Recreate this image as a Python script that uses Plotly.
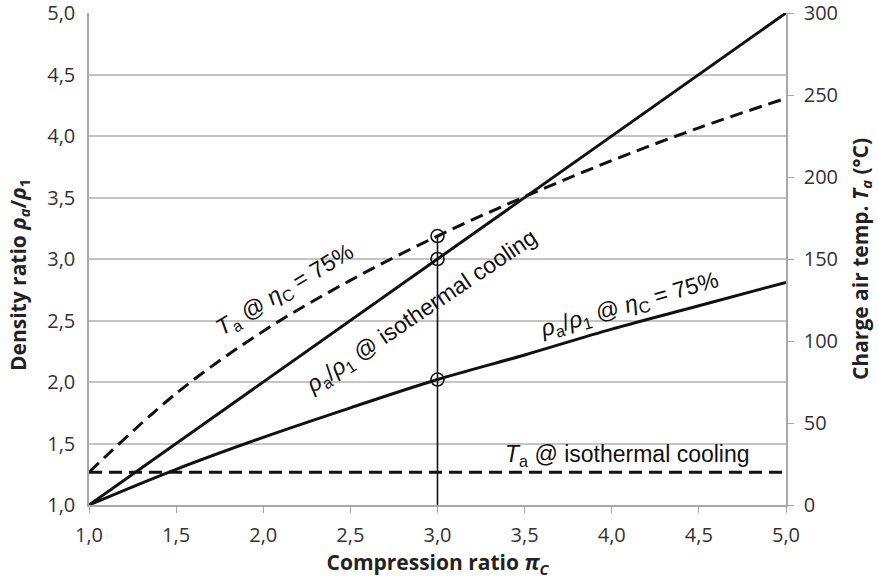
import plotly.graph_objects as go

# Data
pi_c = [1.0, 1.5, 2.0, 2.5, 3.0, 3.5, 4.0, 4.5, 5.0]
rho_isothermal = [1.0, 1.5, 2.0, 2.5, 3.0, 3.5, 4.0, 4.5, 5.0]
rho_eta75 = [1.0, 1.29, 1.55, 1.79, 2.02, 2.22, 2.43, 2.62, 2.81]
ta_eta75 = [20, 68, 106, 137, 164, 188, 210, 230, 248]
ta_isothermal = [20, 20, 20, 20, 20, 20, 20, 20, 20]
pi_mark = 3.0
mark_idx = pi_c.index(pi_mark)

x_ticks = [1.0, 1.5, 2.0, 2.5, 3.0, 3.5, 4.0, 4.5, 5.0]
y_ticks = [1.0, 1.5, 2.0, 2.5, 3.0, 3.5, 4.0, 4.5, 5.0]
y2_ticks = [0, 50, 100, 150, 200, 250, 300]

INK = "#111111"
GRID = "#c4c4c4"
AXIS = "#a8a8a8"
TICKFONT = dict(family="Open Sans", size=20, color="#333333")
TITLEFONT = dict(family="Open Sans", size=21, color="#222222")
ANNFONT = dict(family="Liberation Sans", size=23, color=INK)
DASH = "13px,7px"

W, H = 878, 582
ML, MR, MT, MB = 89, 92, 13, 77
PW, PH = W - ML - MR, H - MT - MB

fig = go.Figure()

fig.add_trace(go.Scatter(x=pi_c, y=rho_isothermal, mode="lines",
                         line=dict(color=INK, width=3), yaxis="y", showlegend=False))
fig.add_trace(go.Scatter(x=pi_c, y=rho_eta75, mode="lines",
                         line=dict(color=INK, width=3, shape="spline"), yaxis="y", showlegend=False))
fig.add_trace(go.Scatter(x=pi_c, y=ta_eta75, mode="lines",
                         line=dict(color=INK, width=3, dash=DASH, shape="spline"), yaxis="y2", showlegend=False))
fig.add_trace(go.Scatter(x=pi_c, y=ta_isothermal, mode="lines",
                         line=dict(color=INK, width=3, dash=DASH), yaxis="y2", showlegend=False))

# vertical marker line at pi = 3
fig.add_trace(go.Scatter(x=[pi_mark, pi_mark], y=[y2_ticks[0], ta_eta75[mark_idx]], mode="lines",
                         line=dict(color=INK, width=1.6), yaxis="y2", showlegend=False))
# circles
fig.add_trace(go.Scatter(x=[pi_mark, pi_mark], y=[rho_isothermal[mark_idx], rho_eta75[mark_idx]],
                         mode="markers", marker=dict(symbol="circle-open", size=13, color=INK,
                                                     line=dict(width=1.6, color=INK)),
                         yaxis="y", showlegend=False))
fig.add_trace(go.Scatter(x=[pi_mark], y=[ta_eta75[mark_idx]],
                         mode="markers", marker=dict(symbol="circle-open", size=13, color=INK,
                                                     line=dict(width=1.6, color=INK)),
                         yaxis="y2", showlegend=False))

annotations = [
    dict(text="<i>T</i><sub>a</sub> @ <i>η</i><sub>C</sub> = 75%", x=285, y=290, angle=-31, font=ANNFONT),
    dict(text="<i>ρ</i><sub>a</sub>/<i>ρ</i><sub>1</sub> @ isothermal cooling", x=421, y=312, angle=-34, font=ANNFONT),
    dict(text="<i>ρ</i><sub>a</sub>/<i>ρ</i><sub>1</sub> @ <i>η</i><sub>C</sub> = 75%", x=629, y=305, angle=-16, font=ANNFONT),
    dict(text="<i>T</i><sub>a</sub> @ isothermal cooling", x=627, y=455, angle=0, font=ANNFONT),
    # left axis title
    dict(text="<b>Density ratio <i>ρ</i><sub><i>a</i></sub>/<i>ρ</i><sub>1</sub></b>", x=19, y=275, angle=-90,
         font=TITLEFONT),
]
for a in annotations:
    fig.add_annotation(text=a["text"], x=(a["x"] - ML) / PW, y=1 - (a["y"] - MT) / PH,
                       xref="paper", yref="paper",
                       xanchor="center", yanchor="middle", showarrow=False, textangle=a["angle"],
                       font=a["font"])

fig.update_layout(
    width=W, height=H,
    margin=dict(l=ML, r=MR, t=MT, b=MB, autoexpand=False),
    paper_bgcolor="white", plot_bgcolor="white",
    separators=", ",
    xaxis=dict(range=[1, 5], tickvals=x_ticks, tickformat=".1f", showgrid=False,
               showline=True, linecolor=AXIS, linewidth=1.5, ticks="outside", ticklen=6,
               tickcolor=AXIS, tickfont=TICKFONT, zeroline=False, ticklabelstandoff=5,
               ticklabeloverflow="allow", automargin=False,
               title=dict(text="<b>Compression ratio <i>π</i><sub><i>C</i></sub></b>", font=TITLEFONT, standoff=9)),
    yaxis=dict(range=[1, 5], tickvals=y_ticks, tickformat=".1f", showgrid=True, gridcolor=GRID,
               gridwidth=1.5, showline=True, linecolor=AXIS, linewidth=1.5, ticks="",
               tickfont=TICKFONT, zeroline=False, ticklabelstandoff=8, ticklabeloverflow="allow",
               automargin=False),
    yaxis2=dict(range=[0, 300], tickvals=y2_ticks, overlaying="y", side="right", showgrid=False,
                showline=True, linecolor=AXIS, linewidth=1.5, ticks="outside", ticklen=6,
                tickcolor=AXIS, tickfont=TICKFONT, zeroline=False, ticklabelstandoff=6,
                ticklabeloverflow="allow", automargin=False,
                title=dict(text="<b>Charge air temp. <i>T<sub>a</sub></i> (°C)</b>", font=TITLEFONT, standoff=16)),
)

fig.write_html("out.html")
